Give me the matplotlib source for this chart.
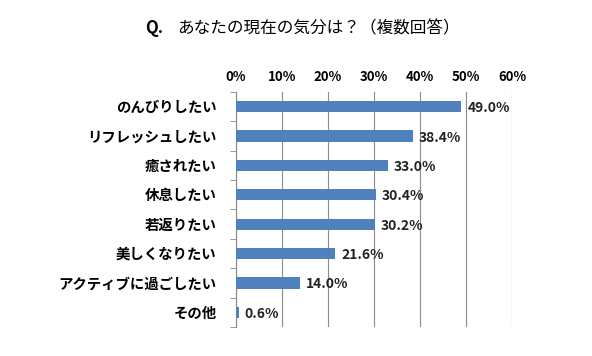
import matplotlib
matplotlib.use("Agg")
import matplotlib.pyplot as plt
import matplotlib.ticker as mticker
import numpy as np

# ── Data ─────────────────────────────────────────────────────
categories = ["のんびりしたい", "リフレッシュしたい", "癒されたい", "休息したい",
              "若返りたい", "美しくなりたい", "アクティブに過ごしたい", "その他"]
values = [49.0, 38.4, 33.0, 30.4, 30.2, 21.6, 14.0, 0.6]
x_ticks = [0, 10, 20, 30, 40, 50, 60]

plt.rcParams["font.family"] = ["Noto Sans CJK JP", "DejaVu Sans"]

fig = plt.figure(figsize=(5.92, 3.56), dpi=100)
ax = fig.add_axes([0.3986, 0.0815, 0.4663, 0.6601])

y = np.arange(len(categories))
ax.barh(y, values, height=0.38, color="#4f81bd", zorder=3)

# --- value labels at bar ends ---
for yi, v in zip(y, values):
    ax.text(v + 1.3, yi + 0.05, f"{v:.1f}%", va="center", ha="left",
            fontsize=10, fontweight="bold", color="#222222", zorder=4)

ax.set_xlim(0, 60)
ax.set_ylim(len(categories) - 0.5, -0.5)
ax.set_xticks(x_ticks)
ax.xaxis.set_major_formatter(mticker.FuncFormatter(lambda v, p: f"{v:.0f}%"))
ax.xaxis.tick_top()
ax.tick_params(axis="x", length=0, pad=6, labelsize=9.5)
for lbl in ax.get_xticklabels():
    lbl.set_fontweight("bold")

ax.set_yticks(y)
ax.set_yticklabels(categories, fontsize=10.4, fontweight="bold")
ax.tick_params(axis="y", length=0, pad=14)
ax.set_yticks(np.arange(len(categories) + 1) - 0.5, minor=True)
ax.tick_params(axis="y", which="minor", length=4, color="#888888")

ax.grid(axis="x", color="#8c8c8c", linewidth=0.8, zorder=0)
for s in ["top", "right", "bottom"]:
    ax.spines[s].set_visible(False)
ax.spines["left"].set_color("#888888")

# ── Title ────────────────────────────────────────────────────
fig.text(0.245, 0.92, "Q.", fontsize=12, fontweight="bold", ha="left", va="center")
fig.text(0.30, 0.92, "あなたの現在の気分は？（複数回答）", fontsize=12,
         ha="left", va="center")

plt.savefig("out.png", dpi=100, facecolor="white")
